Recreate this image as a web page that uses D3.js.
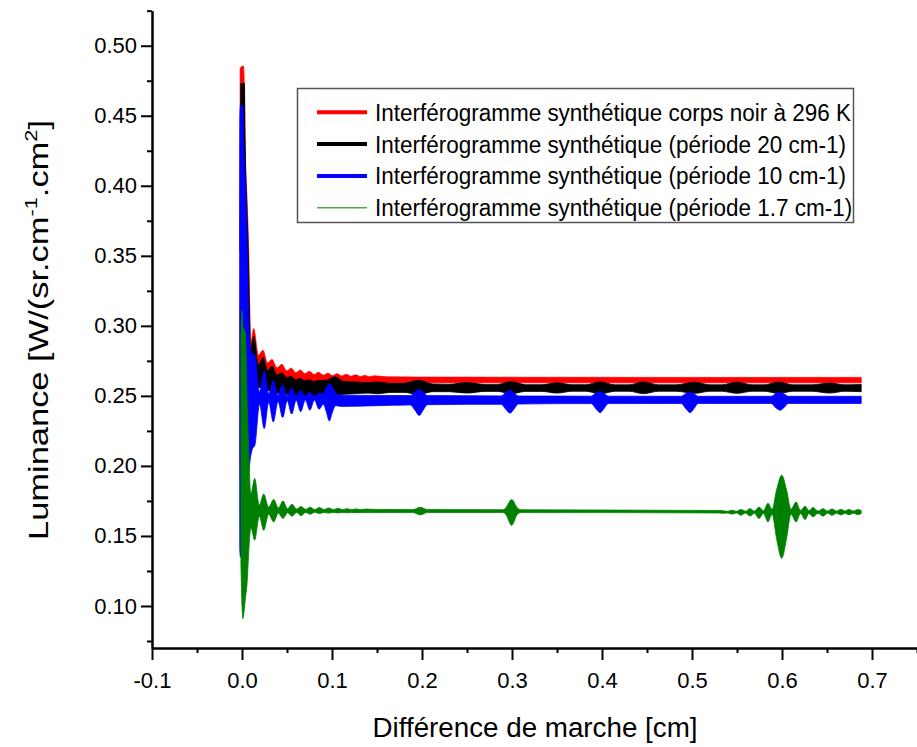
<!DOCTYPE html>
<html>
<head>
<meta charset="utf-8">
<script src="https://cdnjs.cloudflare.com/ajax/libs/d3/7.8.5/d3.min.js"></script>
<style>
	body { margin: 0; background: #fff; }
	text { font-family: "Liberation Sans", Arial, sans-serif; fill: #000; }
</style>
</head>
<body>
<div id="chart"></div>
<script>
//////////////////////////////////////////////////
// data
// envelopes: [path difference (cm), lower, upper]
//////////////////////////////////////////////////
var xTicks = [-0.1, 0.0, 0.1, 0.2, 0.3, 0.4, 0.5, 0.6, 0.7];
var xMinorTicks = [-0.05, 0.05, 0.15, 0.25, 0.35, 0.45, 0.55, 0.65, 0.75];
var yTicks = [0.10, 0.15, 0.20, 0.25, 0.30, 0.35, 0.40, 0.45, 0.50];
var yMinorTicks = [0.075, 0.125, 0.175, 0.225, 0.275, 0.325, 0.375, 0.425, 0.475, 0.525];

var legendLabels = [
	'Interférogramme synthétique corps noir à 296 K',
	'Interférogramme synthétique (période 20 cm-1)',
	'Interférogramme synthétique (période 10 cm-1)',
	'Interférogramme synthétique (période 1.7 cm-1)'
];

var redEnv = [
	[-0.0022, 0.2620, 0.2620], [-0.0020, 0.2400, 0.4840], [0.0016, 0.2400, 0.4855],
	[0.0025, 0.2450, 0.4720], [0.0035, 0.2480, 0.4255], [0.0056, 0.2550, 0.3900],
	[0.0074, 0.2600, 0.3540], [0.0085, 0.2650, 0.3160], [0.0098, 0.2700, 0.2880],
	[0.0130, 0.2760, 0.2980], [0.0182, 0.2700, 0.2790], [0.0233, 0.2690, 0.2825],
	[0.0283, 0.2660, 0.2735], [0.0333, 0.2650, 0.2760], [0.0388, 0.2640, 0.2700],
	[0.0444, 0.2630, 0.2725], [0.0496, 0.2620, 0.2678], [0.0548, 0.2615, 0.2698],
	[0.0598, 0.2610, 0.2665], [0.0648, 0.2610, 0.2685], [0.0698, 0.2605, 0.2658],
	[0.0748, 0.2605, 0.2675], [0.0800, 0.2600, 0.2652], [0.0851, 0.2600, 0.2668],
	[0.0903, 0.2598, 0.2648], [0.0954, 0.2598, 0.2662], [0.1006, 0.2597, 0.2645],
	[0.1057, 0.2597, 0.2658], [0.1109, 0.2596, 0.2642], [0.1160, 0.2596, 0.2654],
	[0.1212, 0.2595, 0.2640], [0.1263, 0.2595, 0.2650], [0.1315, 0.2595, 0.2638],
	[0.1366, 0.2595, 0.2646], [0.1418, 0.2594, 0.2637], [0.1470, 0.2594, 0.2643],
	[0.1600, 0.2594, 0.2636], [0.2000, 0.2594, 0.2634], [0.3000, 0.2593, 0.2633],
	[0.4500, 0.2593, 0.2632], [0.6880, 0.2593, 0.2632]
];

var blackEnv = [
	[-0.0015, 0.2550, 0.2550], [-0.0013, 0.2300, 0.4730], [0.0027, 0.2300, 0.4730],
	[0.0033, 0.2350, 0.4400], [0.0052, 0.2400, 0.3880], [0.0070, 0.2450, 0.3500],
	[0.0082, 0.2500, 0.3120], [0.0095, 0.2580, 0.2820], [0.0130, 0.2620, 0.2926],
	[0.0182, 0.2560, 0.2720], [0.0233, 0.2560, 0.2774], [0.0283, 0.2540, 0.2680],
	[0.0333, 0.2530, 0.2712], [0.0388, 0.2520, 0.2650], [0.0444, 0.2515, 0.2664],
	[0.0496, 0.2510, 0.2630], [0.0544, 0.2505, 0.2640], [0.0598, 0.2500, 0.2615],
	[0.0648, 0.2500, 0.2624], [0.0698, 0.2500, 0.2608], [0.0748, 0.2500, 0.2615],
	[0.0800, 0.2500, 0.2603], [0.0851, 0.2500, 0.2610], [0.0920, 0.2495, 0.2610],
	[0.1037, 0.2490, 0.2636], [0.1120, 0.2510, 0.2605], [0.1250, 0.2515, 0.2600],
	[0.1400, 0.2520, 0.2595], [0.1500, 0.2515, 0.2600], [0.1650, 0.2525, 0.2590],
	[0.1800, 0.2525, 0.2590], [0.1960, 0.2510, 0.2612], [0.2120, 0.2530, 0.2585],
	[0.2300, 0.2530, 0.2583], [0.2500, 0.2520, 0.2595], [0.2700, 0.2532, 0.2582],
	[0.2840, 0.2532, 0.2582], [0.2990, 0.2515, 0.2602], [0.3150, 0.2532, 0.2580],
	[0.3330, 0.2532, 0.2580], [0.3500, 0.2520, 0.2593], [0.3670, 0.2533, 0.2580],
	[0.3820, 0.2533, 0.2580], [0.3980, 0.2515, 0.2600], [0.4150, 0.2533, 0.2579],
	[0.4300, 0.2533, 0.2579], [0.4460, 0.2516, 0.2600], [0.4630, 0.2533, 0.2579],
	[0.4820, 0.2533, 0.2579], [0.5030, 0.2518, 0.2598], [0.5200, 0.2533, 0.2579],
	[0.5330, 0.2533, 0.2579], [0.5500, 0.2518, 0.2598], [0.5670, 0.2533, 0.2579],
	[0.5800, 0.2533, 0.2579], [0.5960, 0.2518, 0.2598], [0.6130, 0.2533, 0.2579],
	[0.6330, 0.2533, 0.2579], [0.6530, 0.2520, 0.2592], [0.6700, 0.2533, 0.2579],
	[0.6880, 0.2530, 0.2582]
];

var blueEnv = [
	[-0.0026, 0.2000, 0.2000], [-0.0024, 0.1400, 0.4500], [-0.0018, 0.1350, 0.4575],
	[0.0008, 0.1400, 0.4575], [0.0020, 0.1500, 0.4300], [0.0050, 0.1750, 0.3780],
	[0.0074, 0.1950, 0.3064], [0.0092, 0.2050, 0.2850], [0.0115, 0.2120, 0.2800],
	[0.0143, 0.2148, 0.2790], [0.0195, 0.2440, 0.2530], [0.0247, 0.2267, 0.2680],
	[0.0297, 0.2455, 0.2515], [0.0348, 0.2314, 0.2610], [0.0400, 0.2460, 0.2505],
	[0.0452, 0.2346, 0.2578], [0.0502, 0.2465, 0.2500], [0.0552, 0.2370, 0.2556],
	[0.0602, 0.2468, 0.2498], [0.0652, 0.2386, 0.2538], [0.0703, 0.2470, 0.2497],
	[0.0754, 0.2398, 0.2528], [0.0805, 0.2470, 0.2497], [0.0856, 0.2405, 0.2520],
	[0.0905, 0.2440, 0.2515], [0.0935, 0.2390, 0.2555], [0.0970, 0.2321, 0.2588],
	[0.1005, 0.2385, 0.2560], [0.1040, 0.2430, 0.2522], [0.1100, 0.2425, 0.2505],
	[0.1500, 0.2430, 0.2503], [0.1870, 0.2435, 0.2502], [0.1920, 0.2400, 0.2528],
	[0.1970, 0.2360, 0.2545], [0.2010, 0.2395, 0.2528], [0.2060, 0.2437, 0.2502],
	[0.2880, 0.2440, 0.2500], [0.2930, 0.2405, 0.2525], [0.2980, 0.2377, 0.2540],
	[0.3020, 0.2405, 0.2522], [0.3070, 0.2442, 0.2499], [0.3880, 0.2445, 0.2498],
	[0.3930, 0.2410, 0.2520], [0.3980, 0.2380, 0.2530], [0.4020, 0.2408, 0.2518],
	[0.4070, 0.2445, 0.2498], [0.4880, 0.2446, 0.2497], [0.4930, 0.2410, 0.2517],
	[0.4980, 0.2380, 0.2525], [0.5020, 0.2408, 0.2515], [0.5070, 0.2446, 0.2497],
	[0.5880, 0.2446, 0.2497], [0.5930, 0.2415, 0.2517], [0.5980, 0.2398, 0.2525],
	[0.6020, 0.2415, 0.2515], [0.6070, 0.2446, 0.2497], [0.6880, 0.2446, 0.2497]
];

var greenEnv = [
	[-0.0012, 0.1300, 0.2900], [0.0000, 0.1000, 0.3110], [0.0010, 0.0910, 0.3000],
	[0.0037, 0.1050, 0.2946], [0.0056, 0.1160, 0.2470], [0.0074, 0.1374, 0.2110],
	[0.0098, 0.1560, 0.1800], [0.0141, 0.1470, 0.1910], [0.0192, 0.1640, 0.1720],
	[0.0241, 0.1540, 0.1800], [0.0296, 0.1655, 0.1705], [0.0352, 0.1600, 0.1760],
	[0.0404, 0.1662, 0.1700], [0.0456, 0.1625, 0.1750], [0.0506, 0.1665, 0.1695],
	[0.0556, 0.1641, 0.1726], [0.0606, 0.1667, 0.1692], [0.0656, 0.1645, 0.1710],
	[0.0708, 0.1668, 0.1690], [0.0759, 0.1655, 0.1705], [0.0809, 0.1669, 0.1688],
	[0.0859, 0.1660, 0.1703], [0.0911, 0.1668, 0.1688], [0.0963, 0.1663, 0.1700],
	[0.1015, 0.1668, 0.1688], [0.1067, 0.1664, 0.1698], [0.1117, 0.1668, 0.1688],
	[0.1167, 0.1665, 0.1695], [0.1218, 0.1668, 0.1688], [0.1270, 0.1666, 0.1693],
	[0.1321, 0.1668, 0.1688], [0.1372, 0.1666, 0.1692], [0.1500, 0.1667, 0.1689],
	[0.1900, 0.1667, 0.1688], [0.1980, 0.1650, 0.1705], [0.2060, 0.1667, 0.1688],
	[0.2900, 0.1667, 0.1687], [0.2930, 0.1655, 0.1700], [0.2996, 0.1576, 0.1760],
	[0.3060, 0.1655, 0.1700], [0.3100, 0.1667, 0.1687], [0.5300, 0.1664, 0.1682],
	[0.5344, 0.1662, 0.1680], [0.5394, 0.1664, 0.1676], [0.5444, 0.1656, 0.1684],
	[0.5494, 0.1664, 0.1676], [0.5544, 0.1648, 0.1688], [0.5594, 0.1663, 0.1677],
	[0.5644, 0.1642, 0.1695], [0.5694, 0.1662, 0.1678], [0.5744, 0.1624, 0.1706],
	[0.5794, 0.1660, 0.1680], [0.5844, 0.1600, 0.1734], [0.5890, 0.1655, 0.1690],
	[0.5940, 0.1480, 0.1830], [0.5997, 0.1340, 0.1934], [0.6050, 0.1480, 0.1830],
	[0.6100, 0.1655, 0.1690], [0.6156, 0.1600, 0.1743], [0.6206, 0.1660, 0.1682],
	[0.6256, 0.1617, 0.1712], [0.6300, 0.1661, 0.1680], [0.6344, 0.1636, 0.1703],
	[0.6400, 0.1662, 0.1678], [0.6456, 0.1641, 0.1695], [0.6506, 0.1662, 0.1678],
	[0.6556, 0.1648, 0.1693], [0.6606, 0.1662, 0.1678], [0.6656, 0.1650, 0.1690],
	[0.6700, 0.1662, 0.1678], [0.6744, 0.1651, 0.1689], [0.6794, 0.1662, 0.1678],
	[0.6844, 0.1652, 0.1688], [0.6880, 0.1660, 0.1682]
];

//////////////////////////////////////////////////
// layout
//////////////////////////////////////////////////
var width = 917, height = 747;
var plotLeft = 152, plotRight = 917, plotTop = 10.7, plotBottom = 648;

var svg = d3.select('#chart')
	.append('svg')
	.attr('width', width)
	.attr('height', height);

var x = d3.scaleLinear().domain([-0.1, 0.75]).range([plotLeft, plotRight]);
var y = d3.scaleLinear().domain([0.07, 0.525]).range([plotBottom, plotTop]);

//////////////////////////////////////////////////
// series, drawn as filled envelopes
//////////////////////////////////////////////////
var area = d3.area()
	.curve(d3.curveMonotoneX)
	.x(function(d) { return x(d[0]); })
	.y0(function(d) { return y(d[1]); })
	.y1(function(d) { return y(d[2]); });

var series = [
	{env: redEnv, color: '#ff0000'},
	{env: blackEnv, color: '#000000'},
	{env: blueEnv, color: '#0000ff'},
	{env: greenEnv, color: '#008000'}
];

svg.append('g')
	.selectAll('path')
	.data(series)
	.join('path')
	.attr('d', function(s) { return area(s.env); })
	.attr('fill', function(s) { return s.color; })
	.attr('stroke', function(s) { return s.color; })
	.attr('stroke-width', 0.8);

//////////////////////////////////////////////////
// axes
//////////////////////////////////////////////////
function styleAxis(g) {
	g.selectAll('.domain').attr('stroke-width', 2);
	g.selectAll('.tick line').attr('stroke-width', 2);
	g.selectAll('text').style('font-size', '22px').attr('fill', '#000');
}

svg.append('g')
	.attr('transform', 'translate(0,' + plotBottom + ')')
	.call(d3.axisBottom(x).tickValues(xMinorTicks).tickSize(5).tickSizeOuter(0).tickFormat(''))
	.call(styleAxis);

svg.append('g')
	.attr('transform', 'translate(0,' + plotBottom + ')')
	.call(d3.axisBottom(x).tickValues(xTicks).tickSize(12).tickPadding(12).tickSizeOuter(0)
		.tickFormat(function(d) { return d.toFixed(1); }))
	.call(styleAxis);

svg.append('g')
	.attr('transform', 'translate(' + plotLeft + ',0)')
	.call(d3.axisLeft(y).tickValues(yMinorTicks).tickSize(5).tickSizeOuter(0).tickFormat(''))
	.call(styleAxis);

svg.append('g')
	.attr('transform', 'translate(' + plotLeft + ',0)')
	.call(d3.axisLeft(y).tickValues(yTicks).tickSize(11).tickPadding(4).tickSizeOuter(0)
		.tickFormat(function(d) { return d.toFixed(2); }))
	.call(styleAxis);

// axis titles
svg.append('text')
	.attr('x', 535)
	.attr('y', 737)
	.attr('text-anchor', 'middle')
	.attr('textLength', 325)
	.attr('lengthAdjust', 'spacingAndGlyphs')
	.style('font-size', '27px')
	.text('Différence de marche [cm]');

var yTitle = svg.append('text')
	.attr('transform', 'translate(48,330) rotate(-90)')
	.attr('text-anchor', 'middle')
	.attr('textLength', 420)
	.attr('lengthAdjust', 'spacingAndGlyphs')
	.style('font-size', '27px');
yTitle.append('tspan').text('Luminance [W/(sr.cm');
yTitle.append('tspan').attr('dy', -11).style('font-size', '17px').text('-1');
yTitle.append('tspan').attr('dy', 11).text('.cm');
yTitle.append('tspan').attr('dy', -11).style('font-size', '17px').text('2');
yTitle.append('tspan').attr('dy', 11).text(']');

//////////////////////////////////////////////////
// legend
//////////////////////////////////////////////////
var legend = svg.append('g');
legend.append('rect')
	.attr('x', 297.5)
	.attr('y', 88.5)
	.attr('width', 556)
	.attr('height', 134)
	.attr('fill', '#fff')
	.attr('stroke', '#555')
	.attr('stroke-width', 1.5);

var legendStyles = [
	{color: '#ff0000', w: 4},
	{color: '#000000', w: 4},
	{color: '#0000ff', w: 4},
	{color: '#4aa84a', w: 1.5}
];

var rows = legend.selectAll('g.row')
	.data(legendLabels)
	.join('g')
	.attr('class', 'row')
	.attr('transform', function(d, i) { return 'translate(0,' + (112.3 + i * 31.8) + ')'; });

rows.append('line')
	.attr('x1', 317)
	.attr('x2', 367)
	.attr('stroke', function(d, i) { return legendStyles[i].color; })
	.attr('stroke-width', function(d, i) { return legendStyles[i].w; });

var labels = rows.append('text')
	.attr('x', 375)
	.attr('y', 8.5)
	.style('font-size', '23px')
	.text(function(d) { return d; });

// squeeze the text like the original (row 1 ends at x~851)
var squeeze = 476 / labels.node().getComputedTextLength();
labels.each(function() {
	var t = d3.select(this);
	t.attr('textLength', this.getComputedTextLength() * squeeze)
		.attr('lengthAdjust', 'spacingAndGlyphs');
});
</script>
</body>
</html>
